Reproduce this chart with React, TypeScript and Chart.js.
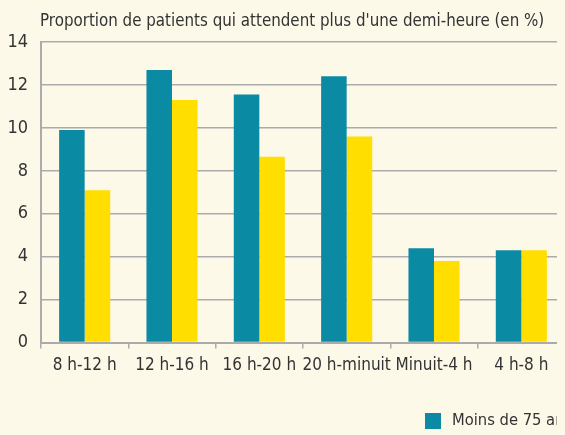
import React, { useEffect, useRef } from "react";
import { Chart, registerables } from "chart.js";

Chart.register(...registerables);

const titleText = "Proportion de patients qui attendent plus d'une demi-heure (en %)";
const categories = ["8 h-12 h", "12 h-16 h", "16 h-20 h", "20 h-minuit", "Minuit-4 h", "4 h-8 h"];
const seriesLabels = ["Moins de 75 ans", "75 ans ou plus"];
const moins75 = [9.9, 12.7, 11.55, 12.4, 4.4, 4.3];
const plus75 = [7.1, 11.3, 8.65, 9.6, 3.8, 4.3];
const yMin = 0;
const yMax = 14;
const yStep = 2;

const TEAL = "#0B8AA4";
const YELLOW = "#FFDE00";
const GRID = "#ABABAB";
const TEXT = "#333333";
const BG = "#FDF9E9";
const FONT = "'Liberation Sans Narrow', 'DejaVu Sans Condensed', sans-serif";
const FS = 17;

const decorPlugin = {
  id: "decor",
  afterDraw(chart: any) {
    const ctx = chart.ctx;
    ctx.save();
    ctx.fillStyle = TEXT;
    ctx.font = `16.8px ${FONT}`;
    ctx.textBaseline = "middle";
    ctx.textAlign = "left";
    ctx.fillText(titleText, 32, 13.5);
    ctx.font = `16.4px ${FONT}`;
    const colors = [TEAL, YELLOW];
    let x = 417;
    const y = 413;
    seriesLabels.forEach((lab, i) => {
      ctx.fillStyle = colors[i];
      ctx.fillRect(x, y - 8, 16, 16);
      ctx.fillStyle = TEXT;
      ctx.fillText(lab, x + 27, y);
      x += 27 + ctx.measureText(lab).width + 30;
    });
    ctx.restore();
  },
};

export default function App() {
  const ref = useRef<HTMLCanvasElement>(null);
  useEffect(() => {
    document.body.style.backgroundColor = BG;
    const chart = new Chart(ref.current!, {
      type: "bar",
      data: {
        labels: categories,
        datasets: [
          { label: seriesLabels[0], data: moins75, backgroundColor: TEAL, borderWidth: 0 },
          { label: seriesLabels[1], data: plus75, backgroundColor: YELLOW, borderWidth: 0 },
        ],
      },
      options: {
        animation: false,
        responsive: false,
        layout: { padding: { top: 34, left: 0, right: -2, bottom: 52 } },
        plugins: { legend: { display: false }, title: { display: false }, tooltip: { enabled: false } },
        datasets: { bar: { categoryPercentage: 0.585, barPercentage: 1 } },
        scales: {
          x: {
            grid: { drawOnChartArea: false, drawTicks: true, tickLength: 6, color: GRID, lineWidth: 1.5 },
            border: { color: GRID, width: 2 },
            ticks: { color: TEXT, font: { family: FONT, size: FS }, padding: 7, maxRotation: 0, autoSkip: false },
          },
          y: {
            min: yMin,
            max: yMax,
            afterFit(scale: any) {
              scale.width = 33;
            },
            grid: { drawTicks: false, color: GRID, lineWidth: 1.5 },
            border: { color: GRID, width: 2 },
            ticks: { stepSize: yStep, color: TEXT, font: { family: FONT, size: 18 }, padding: 13 },
          },
        },
      },
      plugins: [decorPlugin],
    });
    return () => chart.destroy();
  }, []);
  return (
    <div style={{ width: 557, height: 427, overflow: "hidden" }}>
      <canvas ref={ref} width={557} height={427} style={{ display: "block" }} />
    </div>
  );
}
